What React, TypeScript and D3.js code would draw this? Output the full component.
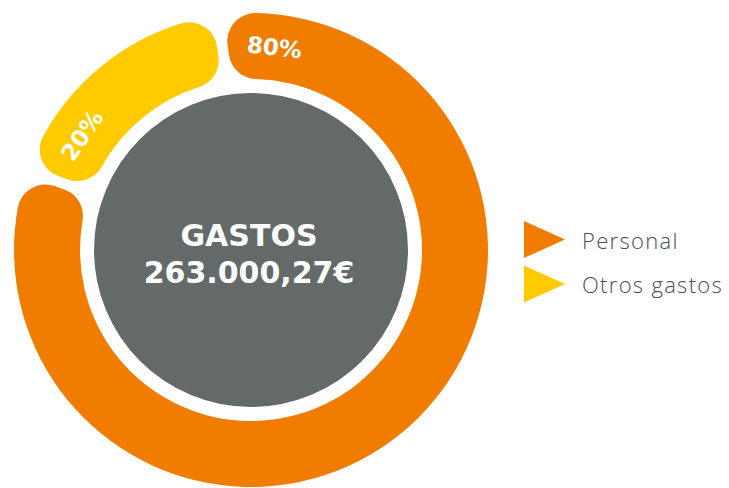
import { useMemo } from 'react';
import * as d3 from 'd3';

// legend categories and the share of the ring each one takes as drawn
const categories = ['Personal', 'Otros gastos'];
const shares = [83.2, 16.8];
const shareLabels = ['80%', '20%'];
const centerLines = ['GASTOS', '263.000,27€'];

const COLORS = ['#F07D00', '#FFCB00'];
const CORE_COLOR = '#646A69';

const WIDTH = 729;
const HEIGHT = 488;
const CX = 251;
const CY = 250;
const OUTER = 237;
const INNER = 171;
const CORE = 157;
const DEG = Math.PI / 180;
const START = -8 * DEG;
const PAD = 3 * DEG;
const LABEL_OFFSET = 14.6 * DEG;

const BOLD_FONT = "'DejaVu Sans', sans-serif";

export default function App() {
  const slices = useMemo(() => {
    return d3
      .pie<number>()
      .sort(null)
      .value((d) => d)
      .startAngle(START)
      .endAngle(START + 2 * Math.PI)
      .padAngle(PAD)(shares);
  }, []);

  const arcGen = d3
    .arc<d3.PieArcDatum<number>>()
    .innerRadius(INNER)
    .outerRadius(OUTER)
    .cornerRadius(28)
    .padRadius((INNER + OUTER) / 2);

  const midR = (INNER + OUTER) / 2;

  const legendY = d3.scalePoint<string>().domain(categories).range([239.5, 284]);
  const color = d3.scaleOrdinal<string, string>().domain(categories).range(COLORS);

  const tri = (cy: number) => {
    const p = d3.path();
    p.moveTo(524, cy - 18.5);
    p.lineTo(565, cy);
    p.lineTo(524, cy + 18.5);
    p.closePath();
    return p.toString();
  };

  return (
    <svg
      width={WIDTH}
      height={HEIGHT}
      style={{ position: 'absolute', left: 0, top: 0, background: '#fff' }}
    >
      <g transform={`translate(${CX},${CY})`}>
        {slices.map((s, i) => (
          <path key={categories[i]} d={arcGen(s) || ''} fill={color(categories[i])} />
        ))}
        <circle r={CORE} fill={CORE_COLOR} />
        {slices.map((s, i) => {
          const a = s.startAngle + LABEL_OFFSET;
          const x = midR * Math.sin(a);
          const y = -midR * Math.cos(a);
          return (
            <text
              key={shareLabels[i]}
              transform={`translate(${x},${y}) rotate(${a / DEG})`}
              textAnchor="middle"
              dominantBaseline="central"
              fill="#fff"
              fontFamily={BOLD_FONT}
              fontWeight={700}
              fontSize={23}
            >
              {shareLabels[i]}
            </text>
          );
        })}
        <text
          x={-2}
          y={-4}
          textAnchor="middle"
          fill="#fff"
          fontFamily={BOLD_FONT}
          fontWeight={700}
          fontSize={30}
        >
          {centerLines[0]}
        </text>
        <text
          x={-2}
          y={33}
          textAnchor="middle"
          fill="#fff"
          fontFamily={BOLD_FONT}
          fontWeight={700}
          fontSize={30}
        >
          {centerLines[1]}
        </text>
      </g>
      {categories.map((c) => (
        <g key={c}>
          <path d={tri(legendY(c) as number)} fill={color(c)} />
          <text
            x={582}
            y={(legendY(c) as number) + 9}
            fill="#4D4D4D"
            fontFamily="'Open Sans', sans-serif"
            fontWeight={300}
            fontSize={22}
            letterSpacing={1.3}
          >
            {c}
          </text>
        </g>
      ))}
    </svg>
  );
}
